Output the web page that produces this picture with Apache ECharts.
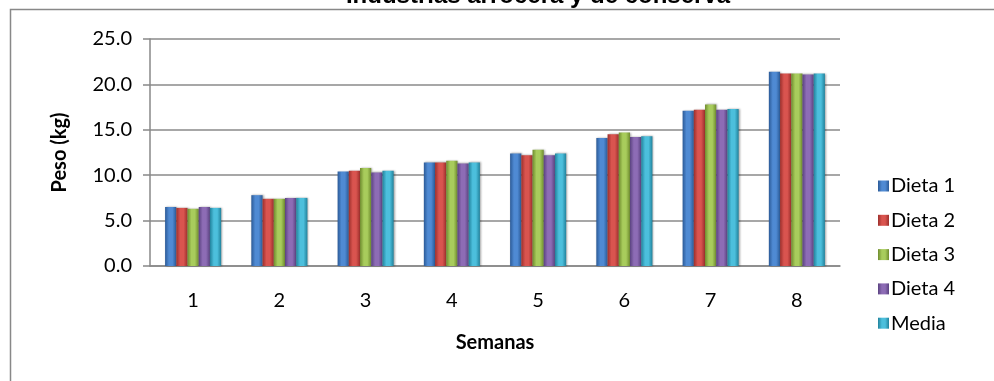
<!DOCTYPE html>
<html>
<head>
<meta charset="utf-8">
<script src="https://cdn.jsdelivr.net/npm/echarts@6/dist/echarts.min.js"></script>
<style>
  html, body { margin: 0; padding: 0; background: #fff; }
  #chart { width: 994px; height: 381px; }
</style>
</head>
<body>
<div id="chart"></div>
<script>
// Weekly weight (kg) per diet, weeks 1-8
const semanas = ['1', '2', '3', '4', '5', '6', '7', '8'];
const dieta1 = [6.5, 7.8, 10.4, 11.4, 12.4, 14.1, 17.1, 21.4];
const dieta2 = [6.4, 7.4, 10.5, 11.4, 12.2, 14.5, 17.2, 21.2];
const dieta3 = [6.3, 7.4, 10.8, 11.6, 12.8, 14.7, 17.8, 21.2];
const dieta4 = [6.5, 7.5, 10.3, 11.3, 12.2, 14.2, 17.2, 21.1];
const media  = [6.4, 7.5, 10.5, 11.4, 12.4, 14.3, 17.3, 21.2];
const yTicks = [0, 5, 10, 15, 20, 25];

const seriesDefs = [
  { name: 'Dieta 1', data: dieta1, dark: '#2b5a97', light: '#4f8ad3' },
  { name: 'Dieta 2', data: dieta2, dark: '#9c2f2c', light: '#d9544f' },
  { name: 'Dieta 3', data: dieta3, dark: '#6f8c2e', light: '#a8cc5c' },
  { name: 'Dieta 4', data: dieta4, dark: '#5a4280', light: '#8d6cb5' },
  { name: 'Media',   data: media,   dark: '#21829c', light: '#4cbfdc' }
];

function barGradient(d) {
  return new echarts.graphic.LinearGradient(0, 0, 1, 0, [
    { offset: 0, color: d.dark },
    { offset: 0.35, color: d.light },
    { offset: 0.65, color: d.light },
    { offset: 1, color: d.dark }
  ]);
}

const chart = echarts.init(document.getElementById('chart'), null, { renderer: 'canvas' });

const font = 'Lato, "Open Sans", sans-serif';

chart.setOption({
  animation: false,
  backgroundColor: '#ffffff',
  graphic: [
    {
      type: 'rect',
      shape: { x: 10.5, y: 9.5, width: 1200, height: 600 },
      style: { fill: 'none', stroke: '#888888', lineWidth: 1.5 },
      silent: true
    },
    {
      type: 'text',
      x: 538, y: 8,
      style: {
        text: 'Industrias arrocera y de conserva',
        font: 'bold 24px "Liberation Sans", Arial, sans-serif',
        fill: '#000',
        align: 'center',
        verticalAlign: 'bottom'
      },
      silent: true
    }
  ],
  grid: { left: 150, right: 154, top: 39, bottom: 115 },
  legend: {
    orient: 'vertical',
    left: 873,
    top: 171,
    itemWidth: 11,
    itemHeight: 11,
    itemGap: 14.3,
    icon: 'rect',
    textStyle: { fontFamily: font, fontSize: 20, color: '#000', padding: [0, 0, 0, -3] },
    data: seriesDefs.map(d => d.name)
  },
  xAxis: {
    type: 'category',
    data: semanas,
    name: 'Semanas',
    nameLocation: 'middle',
    nameGap: 67,
    nameTextStyle: { fontFamily: font, fontSize: 20, fontWeight: 'bold', color: '#000' },
    axisLine: { lineStyle: { color: '#888888', width: 1.5 } },
    axisTick: { show: false },
    axisLabel: { fontFamily: font, fontSize: 20, color: '#000', margin: 25 }
  },
  yAxis: {
    type: 'value',
    min: 0, max: 25, interval: 5,
    name: 'Peso (kg)',
    nameLocation: 'middle',
    nameGap: 80,
    nameTextStyle: { fontFamily: font, fontSize: 20, fontWeight: 'bold', color: '#000' },
    axisLine: { show: true, lineStyle: { color: '#888888', width: 1.5 } },
    axisTick: { show: true, inside: false, length: 7, lineStyle: { color: '#888888', width: 1.5 } },
    splitLine: { lineStyle: { color: '#8a8a8a', width: 1.5 } },
    axisLabel: {
      fontFamily: font, fontSize: 20, color: '#000', margin: 18,
      formatter: v => yTicks.includes(v) ? v.toFixed(1) : ''
    }
  },
  series: seriesDefs.map(d => ({
    name: d.name,
    type: 'bar',
    data: d.data,
    barGap: '0%',
    barCategoryGap: '35%',
    itemStyle: {
      color: barGradient(d),
      shadowColor: 'rgba(0,0,0,0.35)',
      shadowBlur: 2,
      shadowOffsetX: 1
    }
  }))
});
</script>
</body>
</html>
